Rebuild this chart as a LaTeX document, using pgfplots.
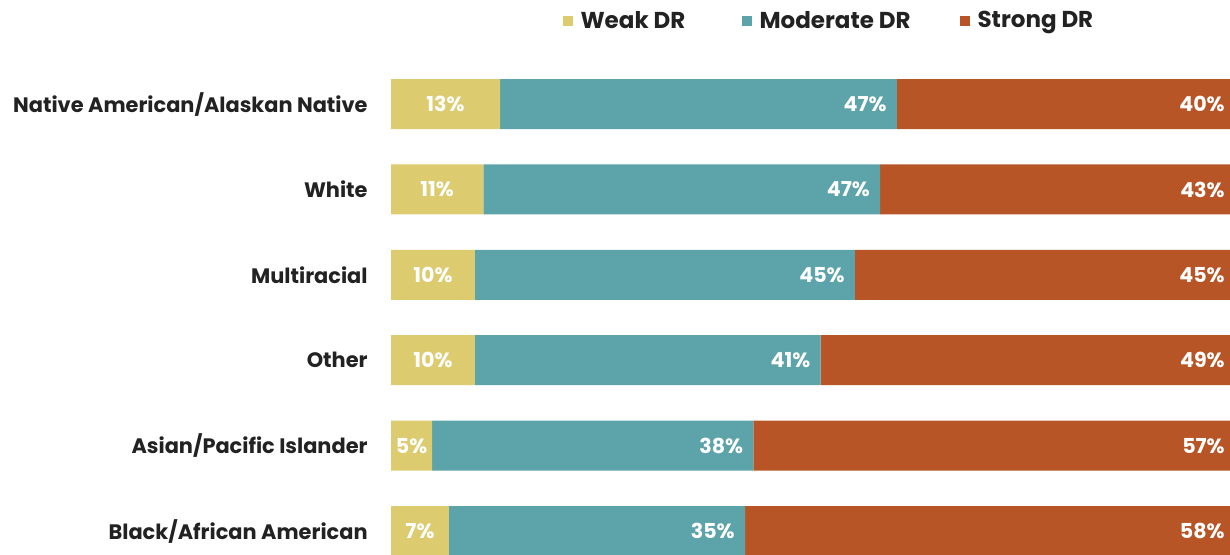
\documentclass[border=0pt]{standalone}
\usepackage{fontspec}
\setmainfont{Poppins}
\usepackage{pgfplots}
\pgfplotsset{compat=1.18}
\usepackage{pgfplotstable}

\definecolor{weakc}{HTML}{DDCB70}
\definecolor{modc}{HTML}{5CA4AA}
\definecolor{strongc}{HTML}{B85527}
\definecolor{txt}{HTML}{222222}

% shares from the bar lengths, labels as printed
\pgfplotstableread{
y weak mod strong lw lm ls
5 13  47.3 39.7 13 47 40
4 11  47.3 41.7 11 47 43
3 10  45.3 44.7 10 45 45
2 10  41.2 48.8 10 41 49
1 4.9 38.3 56.8 5  38 57
0 6.9 35.3 57.8 7  35 58
}\data

\tikzset{lbl/.style={font=\bfseries\fontsize{10.3}{12}\selectfont, text=white, inner sep=0pt}}
\pgfplotsset{
  base/.style={
    width=419.5pt, height=277pt, scale only axis,
    at={(195.5pt,0pt)}, anchor=south west,
    xmin=0, xmax=100, ymin=-0.269, ymax=6.218,
    axis line style={draw=none}, tick style={draw=none},
    xtick=\empty, ytick=\empty,
  },
}

\begin{document}
\begin{tikzpicture}
\useasboundingbox (0,0) rectangle (615pt,277pt);
\begin{axis}[base,
    xbar stacked, bar width=25pt,
    ytick={0,...,5},
    yticklabels={Black/African American, Asian/Pacific Islander, Other,
                 Multiracial, White, Native American/Alaskan Native},
    yticklabel style={font=\bfseries\fontsize{10.45}{12}\selectfont, text=txt,
                      anchor=east, inner sep=0pt, xshift=-11.5pt},
    legend columns=3,
    legend style={at={(0.204,0.962)}, anchor=west, draw=none, fill=none,
        inner sep=0pt, column sep=0pt,
        font=\bfseries\fontsize{11.5}{13}\selectfont, text=txt,
        nodes={inner sep=0pt},
        /tikz/every odd column/.append style={column sep=4pt}},
    legend image code/.code={\fill[#1] (0pt,-2.5pt) rectangle (5pt,2.5pt);},
]
\addplot[fill=weakc, draw=none] table[x=weak, y=y] {\data};
\addlegendentry{\makebox[80.5pt][l]{Weak DR}}
\addplot[fill=modc, draw=none] table[x=mod, y=y] {\data};
\addlegendentry{\makebox[100pt][l]{Moderate DR}}
\addplot[fill=strongc, draw=none] table[x=strong, y=y] {\data};
\addlegendentry{Strong DR}
\end{axis}

% value labels
\begin{axis}[base, clip=false]
\addplot[draw=none, mark=none, point meta=explicit symbolic,
    nodes near coords={\pgfplotspointmeta\%},
    every node near coord/.append style={lbl, anchor=center}]
    table[x expr=\thisrow{weak}/2, y=y, meta=lw] {\data};
\addplot[draw=none, mark=none, point meta=explicit symbolic,
    nodes near coords={\pgfplotspointmeta\%},
    every node near coord/.append style={lbl, anchor=east, xshift=-5pt}]
    table[x expr=\thisrow{weak}+\thisrow{mod}, y=y, meta=lm] {\data};
\addplot[draw=none, mark=none, point meta=explicit symbolic,
    nodes near coords={\pgfplotspointmeta\%},
    every node near coord/.append style={lbl, anchor=east, xshift=-2.5pt}]
    table[x expr=100, y=y, meta=ls] {\data};
\end{axis}
\end{tikzpicture}
\end{document}
